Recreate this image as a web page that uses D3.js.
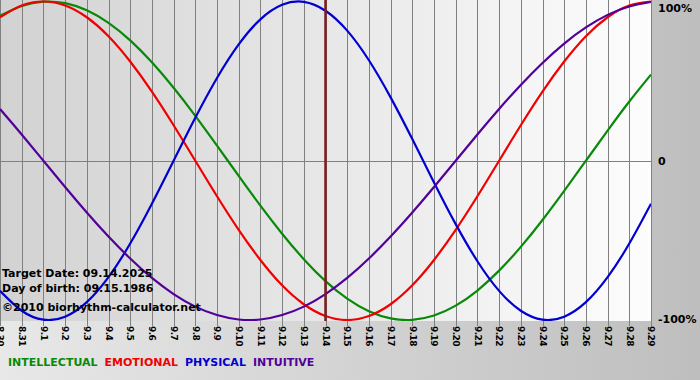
<!DOCTYPE html>
<html>
<head>
<meta charset="utf-8">
<script src="https://cdn.jsdelivr.net/npm/d3@7"></script>
<style>
  html, body { margin: 0; padding: 0; background: #d0d0d0; }
  svg { display: block; }
</style>
</head>
<body>
<svg id="chart" width="700" height="380"></svg>
<script>
// ---- data ----
const dates = ["8.30","8.31","9.1","9.2","9.3","9.4","9.5","9.6","9.7","9.8","9.9","9.10",
  "9.11","9.12","9.13","9.14","9.15","9.16","9.17","9.18","9.19","9.20","9.21","9.22",
  "9.23","9.24","9.25","9.26","9.27","9.28","9.29"];

const intellectual = [0.910,0.972,0.999,0.990,0.945,0.866,0.756,0.618,0.458,0.282,0.095,-0.095,
  -0.282,-0.458,-0.618,-0.756,-0.866,-0.945,-0.990,-0.999,-0.972,-0.910,-0.815,-0.690,
  -0.541,-0.372,-0.189,0.000,0.189,0.372,0.541];

const emotional = [0.901,0.975,1.000,0.975,0.901,0.782,0.623,0.434,0.223,0.000,-0.223,-0.434,
  -0.623,-0.782,-0.901,-0.975,-1.000,-0.975,-0.901,-0.782,-0.623,-0.434,-0.223,0.000,
  0.223,0.434,0.623,0.782,0.901,0.975,1.000];

const physical = [-0.817,-0.942,-0.998,-0.979,-0.888,-0.731,-0.520,-0.270,0.000,0.270,0.520,0.731,
  0.888,0.979,0.998,0.942,0.817,0.631,0.398,0.136,-0.136,-0.398,-0.631,-0.817,
  -0.942,-0.998,-0.979,-0.888,-0.731,-0.520,-0.270];

const intuitive = [0.325,0.165,0.000,-0.165,-0.325,-0.476,-0.614,-0.736,-0.837,-0.916,-0.969,-0.997,
  -0.997,-0.969,-0.916,-0.837,-0.736,-0.614,-0.476,-0.325,-0.165,0.000,0.165,0.325,
  0.476,0.614,0.736,0.837,0.916,0.969,0.997];

const seriesNames = ["INTELLECTUAL","EMOTIONAL","PHYSICAL","INTUITIVE"];
const seriesValues = [intellectual, emotional, physical, intuitive];
const seriesColors = ["#088a08","#f00000","#0000d0","#52009a"];

const yTickValues = [1, 0, -1];
const yTickLabels = ["100%", "0", "-100%"];

const targetDate = "9.14";
const infoLines = ["Target Date: 09.14.2025", "Day of birth: 09.15.1986", "\u00a92010 biorhythm-calculator.net"];

// ---- layout ----
const W = 700, H = 380;
const plot = { left: 0, right: 651, top: 0, bottom: 321 };
const svg = d3.select("#chart");
const font = "'DejaVu Sans', Verdana, sans-serif";

const defs = svg.append("defs");
const bgGrad = defs.append("linearGradient").attr("id", "bgGrad")
  .attr("x1", "0%").attr("x2", "100%").attr("y1", "0%").attr("y2", "0%");
bgGrad.append("stop").attr("offset", "0%").attr("stop-color", "#e8e8e8");
bgGrad.append("stop").attr("offset", "100%").attr("stop-color", "#bebebe");

const plotGrad = defs.append("linearGradient").attr("id", "plotGrad")
  .attr("x1", "0%").attr("x2", "100%").attr("y1", "0%").attr("y2", "0%");
plotGrad.append("stop").attr("offset", "0%").attr("stop-color", "#d2d2d2");
plotGrad.append("stop").attr("offset", "100%").attr("stop-color", "#fdfdfd");

svg.append("rect").attr("width", W).attr("height", H).attr("fill", "url(#bgGrad)");
svg.append("rect")
  .attr("x", plot.left).attr("y", plot.top)
  .attr("width", plot.right - plot.left).attr("height", plot.bottom - plot.top)
  .attr("fill", "url(#plotGrad)");

const x = d3.scalePoint().domain(dates).range([plot.left, plot.right]);
const y = d3.scaleLinear().domain([1, -1]).range([plot.top + 1.5, plot.bottom - 1]);

// vertical grid + ticks + rotated labels
const xAxis = d3.axisBottom(x).tickSizeInner(-(plot.bottom - plot.top)).tickSizeOuter(0);
const gx = svg.append("g").attr("transform", `translate(0,${plot.bottom})`).call(xAxis);
gx.select(".domain").remove();
gx.selectAll(".tick line").attr("y1", 5).attr("stroke", "#808080").attr("stroke-width", 1)
  .attr("shape-rendering", "crispEdges");
gx.selectAll(".tick text")
  .attr("transform", "rotate(90)")
  .attr("x", 5).attr("y", 0).attr("dy", "0.36em")
  .attr("text-anchor", "start")
  .attr("fill", "#000")
  .style("font-family", font).style("font-size", "9px").style("font-weight", "bold")
  .style("letter-spacing", "-0.6px");

// zero line
svg.append("line")
  .attr("x1", plot.left).attr("x2", plot.right + 1)
  .attr("y1", Math.round(y(0)) + 0.5).attr("y2", Math.round(y(0)) + 0.5)
  .attr("stroke", "#808080").attr("stroke-width", 1);

// right axis labels
const yAxis = d3.axisRight(y).tickValues(yTickValues)
  .tickFormat((d, i) => yTickLabels[i]).tickSize(0).tickPadding(7);
const gy = svg.append("g").attr("transform", `translate(${plot.right},0)`).call(yAxis);
gy.select(".domain").remove();
gy.selectAll(".tick text")
  .attr("fill", "#000")
  .style("font-family", font).style("font-size", "11px").style("font-weight", "bold");
gy.selectAll(".tick text").filter((d) => d === 1).attr("dy", "0.9em");
gy.selectAll(".tick text").filter((d) => d === -1).attr("dy", "0.2em");

// curves
const line = d3.line()
  .x((d, i) => x(dates[i]))
  .y((d) => y(d))
  .curve(d3.curveNatural);

const clip = defs.append("clipPath").attr("id", "plotClip");
clip.append("rect").attr("x", plot.left).attr("y", plot.top)
  .attr("width", plot.right - plot.left).attr("height", plot.bottom - plot.top);

const gLines = svg.append("g").attr("clip-path", "url(#plotClip)");
seriesValues.forEach((vals, i) => {
  gLines.append("path")
    .datum(vals)
    .attr("fill", "none")
    .attr("stroke", seriesColors[i])
    .attr("stroke-width", 2.2)
    .attr("d", line);
});

// target date line
svg.append("line")
  .attr("x1", x(targetDate)).attr("x2", x(targetDate))
  .attr("y1", plot.top).attr("y2", plot.bottom)
  .attr("stroke", "#7a1e1e").attr("stroke-width", 2.5);

// info text
const infoY = [277, 292, 311];
svg.append("g").selectAll("text").data(infoLines).join("text")
  .attr("x", 2).attr("y", (d, i) => infoY[i])
  .attr("fill", "#000")
  .style("font-family", font).style("font-size", "11px").style("font-weight", "bold")
  .text((d) => d);

// legend
const legend = svg.append("g");
let lx = 8;
seriesNames.forEach((name, i) => {
  const t = legend.append("text")
    .attr("x", lx).attr("y", 366)
    .attr("fill", seriesColors[i])
    .style("font-family", font).style("font-size", "11px").style("font-weight", "bold")
    .text(name);
  lx += t.node().getComputedTextLength() + 7;
});
</script>
</body>
</html>
